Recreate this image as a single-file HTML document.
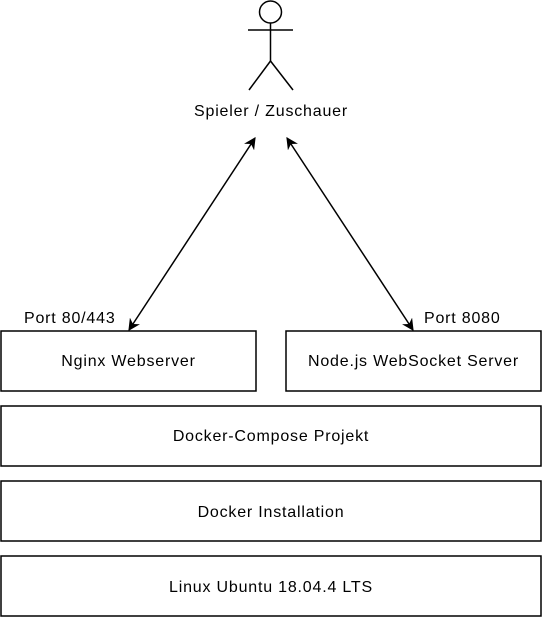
<!DOCTYPE html>
<html><head><meta charset="utf-8"><style>
body{margin:0;background:#fff;width:543px;height:618px;overflow:hidden}
svg text{font-family:"Liberation Sans",Arial,sans-serif;font-size:16px;letter-spacing:0.8px;fill:#000}
</style></head><body>
<svg width="543" height="618" xmlns="http://www.w3.org/2000/svg">
<defs>
<marker id="a" viewBox="0 0 10 10" refX="9" refY="5" markerWidth="12" markerHeight="12" orient="auto-start-reverse" markerUnits="userSpaceOnUse">
<path d="M0,0 L10,5 L0,10 L3,5 Z" fill="#000"/>
</marker>
</defs>
<g stroke="#000" stroke-width="1.5" fill="none">
<circle cx="270.5" cy="12" r="11"/>
<line x1="270.5" y1="23" x2="270.5" y2="61"/>
<line x1="248" y1="30" x2="293" y2="30"/>
<line x1="270.5" y1="61" x2="249" y2="90"/>
<line x1="270.5" y1="61" x2="293" y2="90"/>
<line x1="255" y1="138" x2="129" y2="330" marker-start="url(#a)" marker-end="url(#a)"/>
<line x1="287" y1="138" x2="413" y2="330" marker-start="url(#a)" marker-end="url(#a)"/>
<rect x="1" y="331" width="255" height="60"/>
<rect x="286" y="331" width="255" height="60"/>
<rect x="1" y="406" width="540" height="60"/>
<rect x="1" y="481" width="540" height="60"/>
<rect x="1" y="556" width="540" height="60"/>
</g>
<text x="271" y="116" text-anchor="middle">Spieler / Zuschauer</text>
<text x="24" y="323">Port 80/443</text>
<text x="424" y="323">Port 8080</text>
<text x="128.5" y="366" text-anchor="middle">Nginx Webserver</text>
<text x="413.5" y="366" text-anchor="middle">Node.js WebSocket Server</text>
<text x="271" y="441" text-anchor="middle">Docker-Compose Projekt</text>
<text x="271" y="517" text-anchor="middle">Docker Installation</text>
<text x="271" y="592" text-anchor="middle">Linux Ubuntu 18.04.4 LTS</text>
</svg>
</body></html>
